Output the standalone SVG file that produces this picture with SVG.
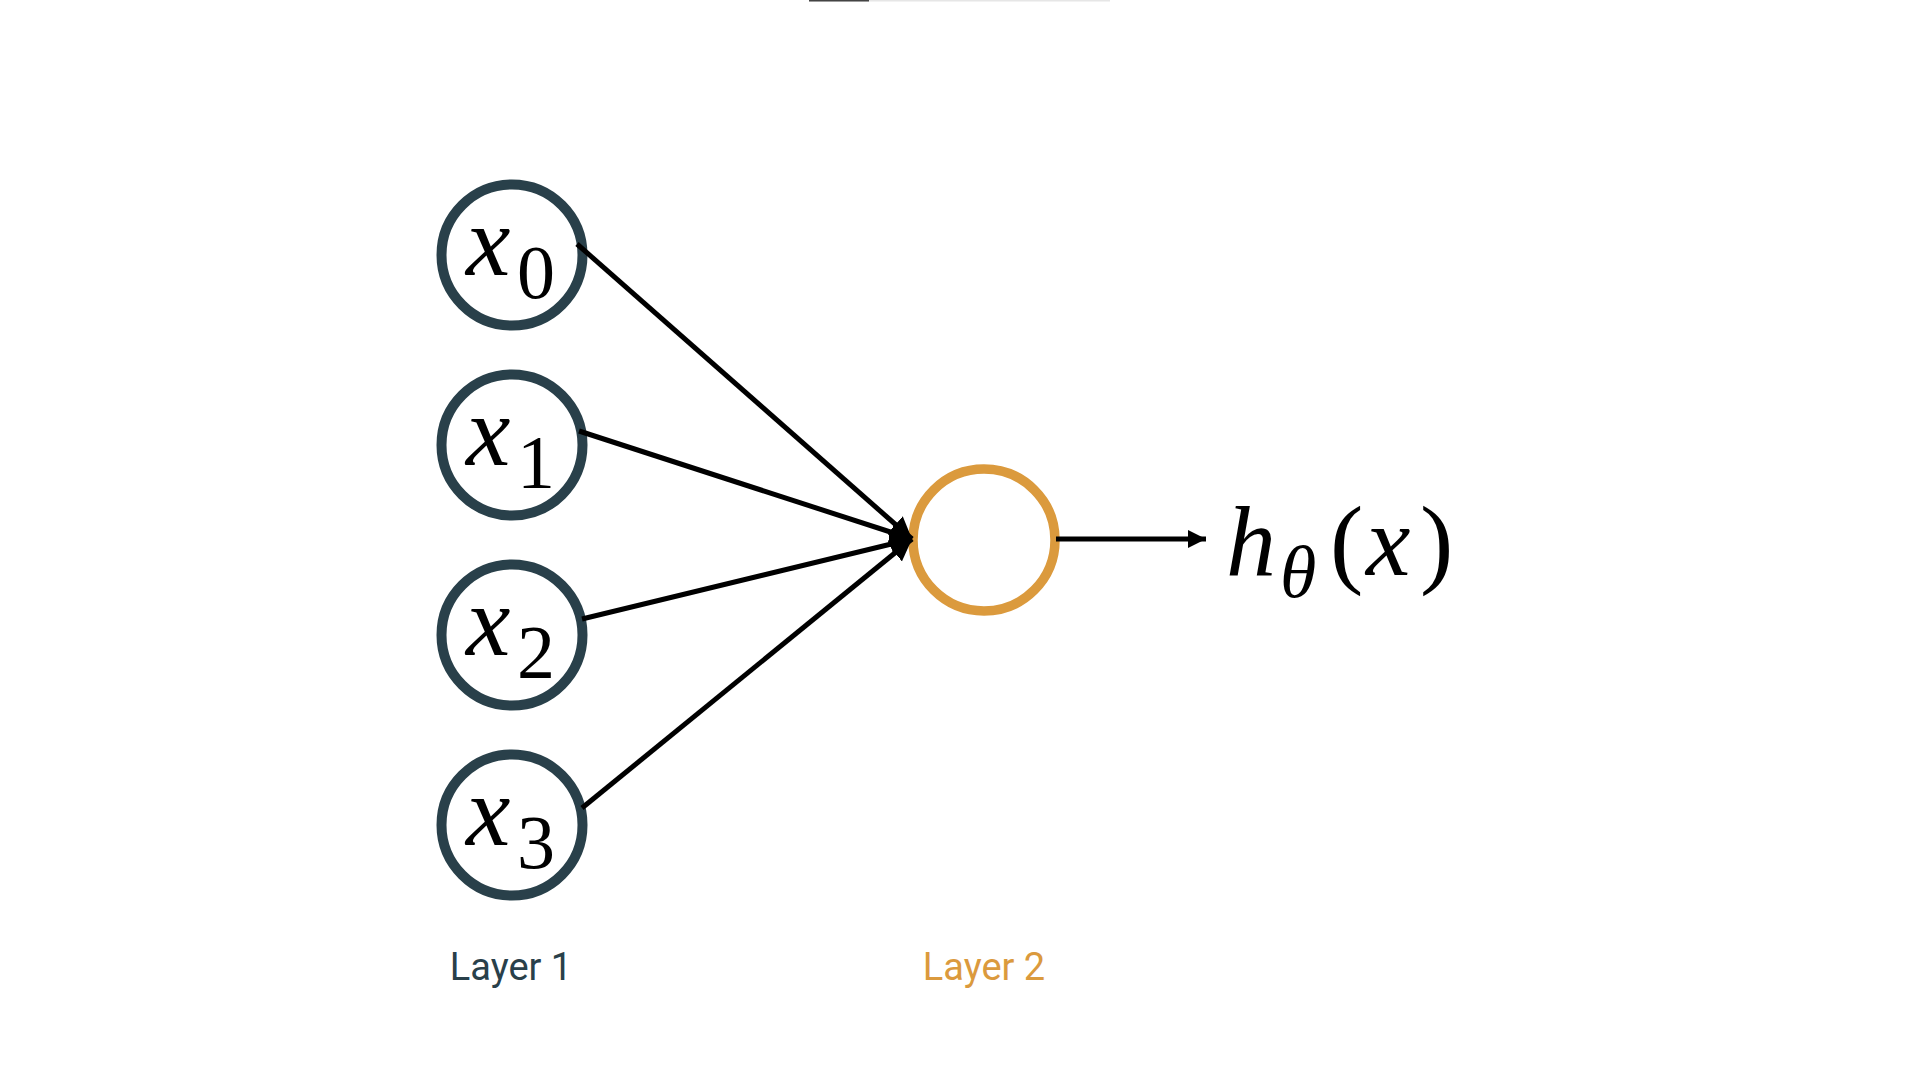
<svg xmlns="http://www.w3.org/2000/svg" width="1920" height="1080" viewBox="0 0 1920 1080">
<style>
.in{fill:#fff;stroke:#29404a;stroke-width:10}
.out{fill:#fff;stroke:#db9a3d;stroke-width:9.5}
.edge{stroke:#000;stroke-width:5;fill:none}
.m{font-family:"Liberation Serif","DejaVu Serif",serif;font-style:italic;fill:#000}
.s{font-family:"Liberation Serif","DejaVu Serif",serif;fill:#000}
.lbl{font-family:Roboto,"Liberation Sans",sans-serif;font-size:38px;text-anchor:middle}
</style>
<defs>
<marker id="ah" markerUnits="userSpaceOnUse" markerWidth="24" markerHeight="22" refX="18" refY="9" orient="auto">
<path d="M0,0 L18,9 L0,18 z" fill="#000"/>
</marker>
<marker id="ah2" markerUnits="userSpaceOnUse" markerWidth="28" markerHeight="28" refX="22" refY="11" orient="auto">
<path d="M0,0 L22,11 L0,22 z" fill="#000"/>
</marker>
</defs>
<rect x="809" y="0" width="301" height="1.5" fill="#e6e6e6"/>
<rect x="809" y="0" width="60" height="1.5" fill="#444"/>
<g id="x0"><circle class="in" cx="512" cy="255" r="70.5"/><text class="m" x="466" y="275" font-size="100">x</text><text class="s" x="517" y="298" font-size="76">0</text></g>
<g id="x1"><circle class="in" cx="512" cy="445" r="70.5"/><text class="m" x="466" y="465" font-size="100">x</text><text class="s" x="517" y="488" font-size="76">1</text></g>
<g id="x2"><circle class="in" cx="512" cy="635" r="70.5"/><text class="m" x="466" y="655" font-size="100">x</text><text class="s" x="517" y="678" font-size="76">2</text></g>
<g id="x3"><circle class="in" cx="512" cy="825" r="70.5"/><text class="m" x="466" y="845" font-size="100">x</text><text class="s" x="517" y="868" font-size="76">3</text></g>
<g id="output"><circle class="out" cx="984" cy="540" r="71"/></g>
<g id="h"><text class="m" x="1226" y="575" font-size="100">h</text><text class="m" x="1280" y="597" font-size="74">θ</text><text class="s" x="1330" y="575" font-size="100">(</text><text class="m" x="1366" y="575" font-size="100">x</text><text class="s" x="1420" y="575" font-size="100">)</text></g>
<g id="connectors">
<line class="edge" x1="577" y1="244" x2="912" y2="539" marker-end="url(#ah2)"/>
<line class="edge" x1="579" y1="431" x2="912" y2="539" marker-end="url(#ah2)"/>
<line class="edge" x1="582" y1="619" x2="912" y2="539" marker-end="url(#ah2)"/>
<line class="edge" x1="582" y1="808" x2="912" y2="539" marker-end="url(#ah2)"/>
<line class="edge" x1="1056" y1="539" x2="1206" y2="539" marker-end="url(#ah)"/>
</g>
<text class="lbl" x="511" y="980" fill="#29404a">Layer 1</text>
<text class="lbl" x="984" y="980" fill="#db9a3d">Layer 2</text>
</svg>
